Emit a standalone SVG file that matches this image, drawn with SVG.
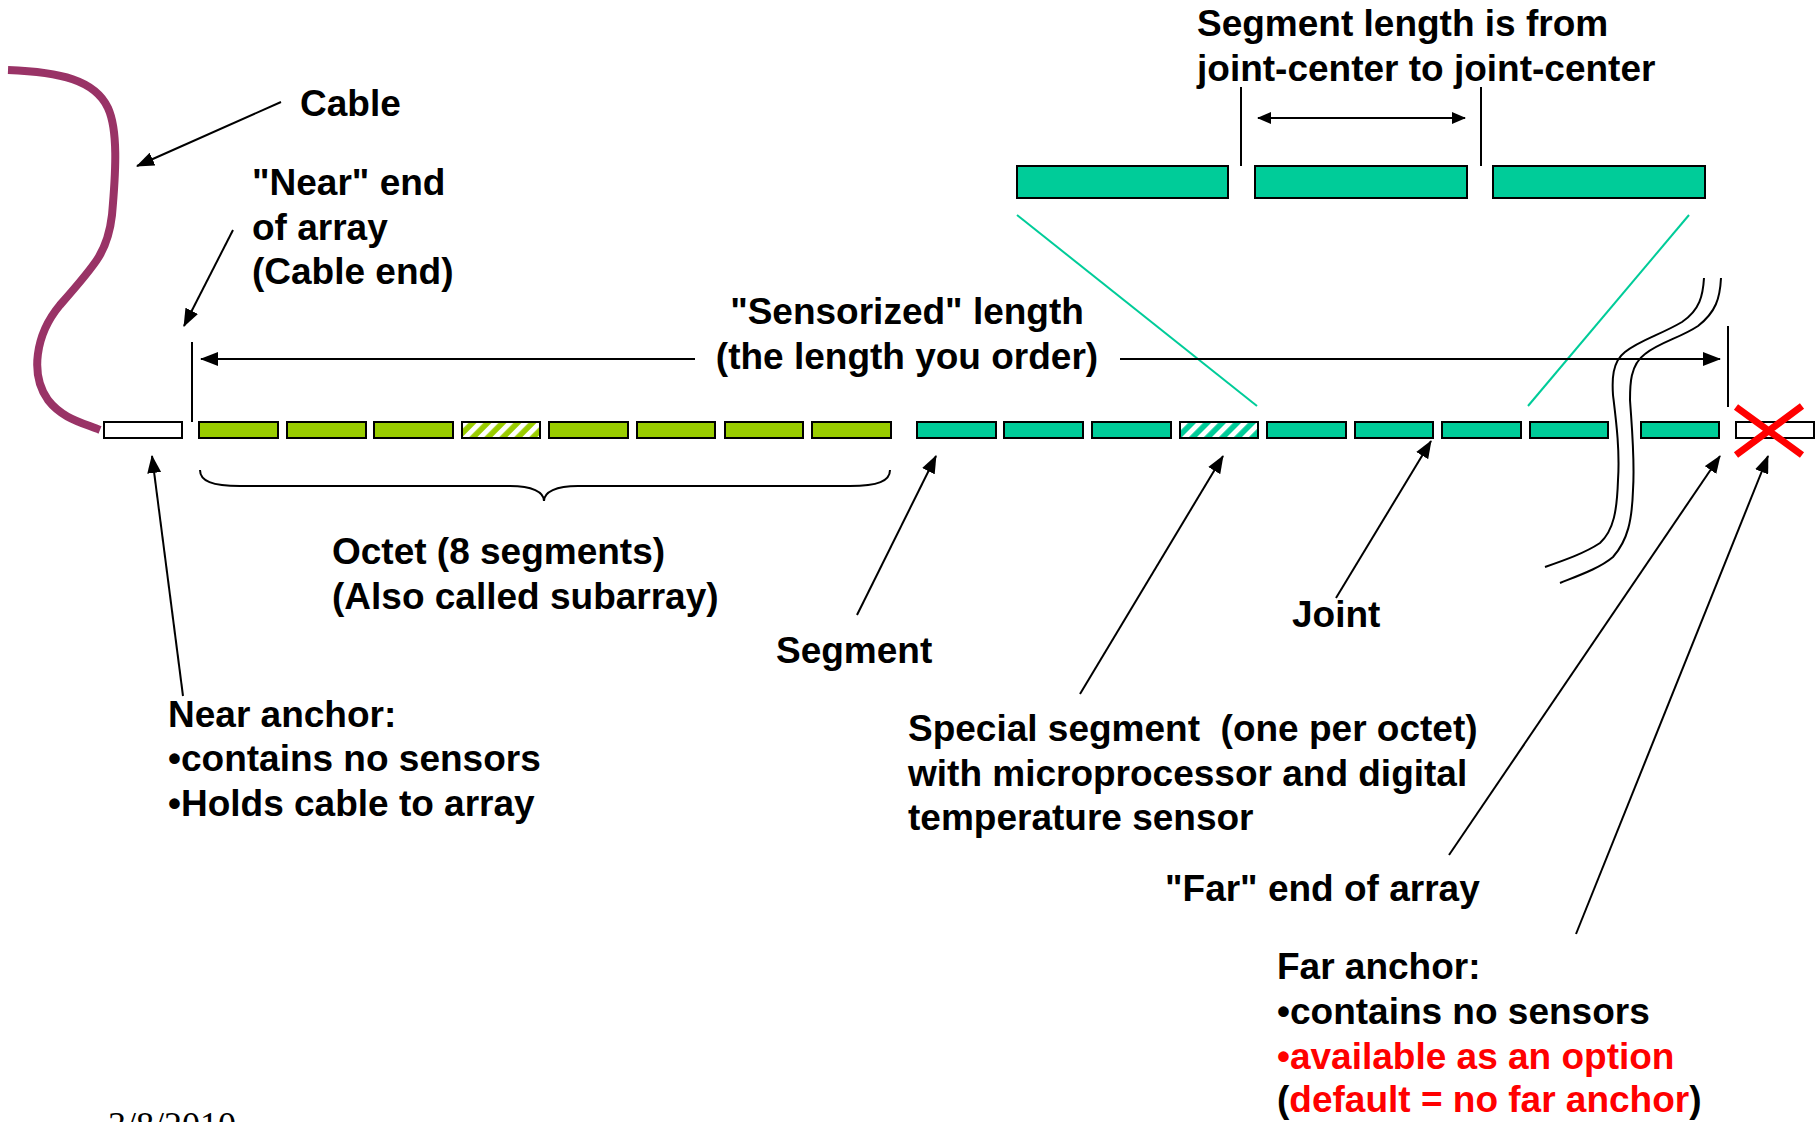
<svg xmlns="http://www.w3.org/2000/svg" width="1820" height="1122" viewBox="0 0 1820 1122">
<style>
.t{font-family:"Liberation Sans",Arial,sans-serif;font-weight:bold;font-size:37px;fill:#000}
.red{fill:#FF0000}
.seg{stroke:#000;stroke-width:2}
.g{fill:#99CC00}
.tl{fill:#00CC99}
.w{fill:#fff}
.ln{stroke:#000;stroke-width:2;fill:none}
.arr{stroke:#000;stroke-width:2;fill:none;marker-end:url(#ah)}
.guide{stroke:#00CC99;stroke-width:2;fill:none}
</style>
<defs>
<marker id="ah" markerUnits="userSpaceOnUse" markerWidth="18" markerHeight="14" viewBox="0 0 18 14" refX="17" refY="7" orient="auto">
<path d="M0,0 L18,7 L0,14 z" fill="#000"/>
</marker>
<marker id="ahs" markerUnits="userSpaceOnUse" markerWidth="14" markerHeight="12" viewBox="0 0 14 12" refX="13" refY="6" orient="auto-start-reverse">
<path d="M0,0 L14,6 L0,12 z" fill="#000"/>
</marker>
<pattern id="hg" patternUnits="userSpaceOnUse" width="10.6" height="10" patternTransform="rotate(45)">
<rect width="10.6" height="10" fill="#99CC00"/>
<rect width="5" height="10" fill="#fff"/>
</pattern>
<pattern id="ht" patternUnits="userSpaceOnUse" width="10.6" height="10" patternTransform="rotate(45)">
<rect width="10.6" height="10" fill="#00CC99"/>
<rect width="5" height="10" fill="#fff"/>
</pattern>
</defs>

<g id="cable">
<path d="M8,70 C60,72 95,80 108,108 C118,130 116,170 112,215 C108,250 98,262 60,305 C35,335 30,375 48,400 C62,418 80,422 100,430" fill="none" stroke="#993366" stroke-width="8"/>
</g>

<g id="near-anchor">
<rect class="seg w" x="104" y="422" width="78" height="16"/>
</g>

<g id="octet-green">
<rect class="seg g" x="199" y="422" width="79" height="16"/>
<rect class="seg g" x="287" y="422" width="79" height="16"/>
<rect class="seg g" x="374" y="422" width="79" height="16"/>
<rect class="seg" fill="url(#hg)" x="462" y="422" width="78" height="16"/>
<rect class="seg g" x="549" y="422" width="79" height="16"/>
<rect class="seg g" x="637" y="422" width="78" height="16"/>
<rect class="seg g" x="725" y="422" width="78" height="16"/>
<rect class="seg g" x="812" y="422" width="79" height="16"/>
</g>

<g id="octet-teal">
<rect class="seg tl" x="917" y="422" width="79" height="16"/>
<rect class="seg tl" x="1004" y="422" width="79" height="16"/>
<rect class="seg tl" x="1092" y="422" width="79" height="16"/>
<rect class="seg" fill="url(#ht)" x="1180" y="422" width="78" height="16"/>
<rect class="seg tl" x="1267" y="422" width="79" height="16"/>
<rect class="seg tl" x="1355" y="422" width="78" height="16"/>
<rect class="seg tl" x="1442" y="422" width="79" height="16"/>
<rect class="seg tl" x="1530" y="422" width="78" height="16"/>
<rect class="seg tl" x="1641" y="422" width="78" height="16"/>
</g>

<g id="far-anchor">
<rect class="seg w" x="1736" y="422" width="78" height="16"/>
<path d="M1736,407 L1802,455 M1802,406 L1736,455" stroke="#FF0000" stroke-width="7" fill="none"/>
</g>

<g id="break-symbol">
<path class="ln" d="M1704,278 C1703,295 1700,310 1682,322 C1660,335 1640,340 1625,352 C1612,362 1612,380 1613,395 C1616,420 1620,450 1618,480 C1617,510 1614,530 1600,543 C1585,553 1565,560 1545,567"/>
<path class="ln" d="M1721,278 C1720,298 1716,312 1698,326 C1680,338 1660,342 1645,354 C1630,365 1630,385 1630,400 C1632,430 1635,460 1633,490 C1632,520 1628,540 1613,557 C1600,568 1580,575 1560,583"/>
</g>

<g id="zoom-detail">
<rect class="seg tl" x="1017" y="166" width="211" height="32"/>
<rect class="seg tl" x="1255" y="166" width="212" height="32"/>
<rect class="seg tl" x="1493" y="166" width="212" height="32"/>
</g>

<g id="connectors">
<line class="guide" x1="1017" y1="215" x2="1257" y2="406"/>
<line class="guide" x1="1689" y1="215" x2="1528" y2="406"/>
<line class="ln" x1="1241" y1="87" x2="1241" y2="166"/>
<line class="ln" x1="1481" y1="87" x2="1481" y2="166"/>
<line x1="1258" y1="118" x2="1465" y2="118" stroke="#000" stroke-width="2" marker-start="url(#ahs)" marker-end="url(#ahs)"/>
<line class="ln" x1="192" y1="342" x2="192" y2="422"/>
<line class="ln" x1="1728" y1="326" x2="1728" y2="407"/>
<line class="arr" x1="695" y1="359" x2="201" y2="359"/>
<line class="arr" x1="1120" y1="359" x2="1720" y2="359"/>
<line class="arr" x1="281" y1="102" x2="137" y2="166"/>
<line class="arr" x1="233" y1="230" x2="184" y2="326"/>
<line class="arr" x1="183" y1="696" x2="152" y2="456"/>
<line class="arr" x1="857" y1="615" x2="936" y2="456"/>
<line class="arr" x1="1080" y1="694" x2="1223" y2="456"/>
<line class="arr" x1="1336" y1="598" x2="1431" y2="441"/>
<line class="arr" x1="1449" y1="855" x2="1720" y2="456"/>
<line class="arr" x1="1576" y1="934" x2="1768" y2="456"/>
<path class="ln" d="M200,470 C200,481 212,486 240,486 L510,486 C532,486 544,492 544,501 C544,492 556,486 578,486 L850,486 C878,486 890,481 890,470"/>
</g>

<g id="labels">
<text class="t" x="300" y="116">Cable</text>
<text class="t" x="252" y="195">"Near" end</text>
<text class="t" x="252" y="240">of array</text>
<text class="t" x="252" y="284">(Cable end)</text>
<text class="t" x="907" y="324" text-anchor="middle">"Sensorized" length</text>
<text class="t" x="907" y="369" text-anchor="middle">(the length you order)</text>
<text class="t" x="1197" y="36">Segment length is from</text>
<text class="t" x="1197" y="81">joint-center to joint-center</text>
<text class="t" x="332" y="564">Octet (8 segments)</text>
<text class="t" x="332" y="609">(Also called subarray)</text>
<text class="t" x="776" y="663">Segment</text>
<text class="t" x="1292" y="627">Joint</text>
<text class="t" x="168" y="727">Near anchor:</text>
<text class="t" x="168" y="771">•contains no sensors</text>
<text class="t" x="168" y="816">•Holds cable to array</text>
<text class="t" x="908" y="741" style="white-space:pre">Special segment  (one per octet)</text>
<text class="t" x="908" y="786">with microprocessor and digital</text>
<text class="t" x="908" y="830">temperature sensor</text>
<text class="t" x="1165" y="901">"Far" end of array</text>
<text class="t" x="1277" y="979">Far anchor:</text>
<text class="t" x="1277" y="1024">•contains no sensors</text>
<text class="t red" x="1277" y="1069">•available as an option</text>
<text class="t" x="1277" y="1112">(<tspan class="red">default = no far anchor</tspan>)</text>
<text x="108" y="1137" font-family="'Liberation Serif','Times New Roman',serif" font-size="36" fill="#000">3/8/2010</text>
</g>
</svg>
